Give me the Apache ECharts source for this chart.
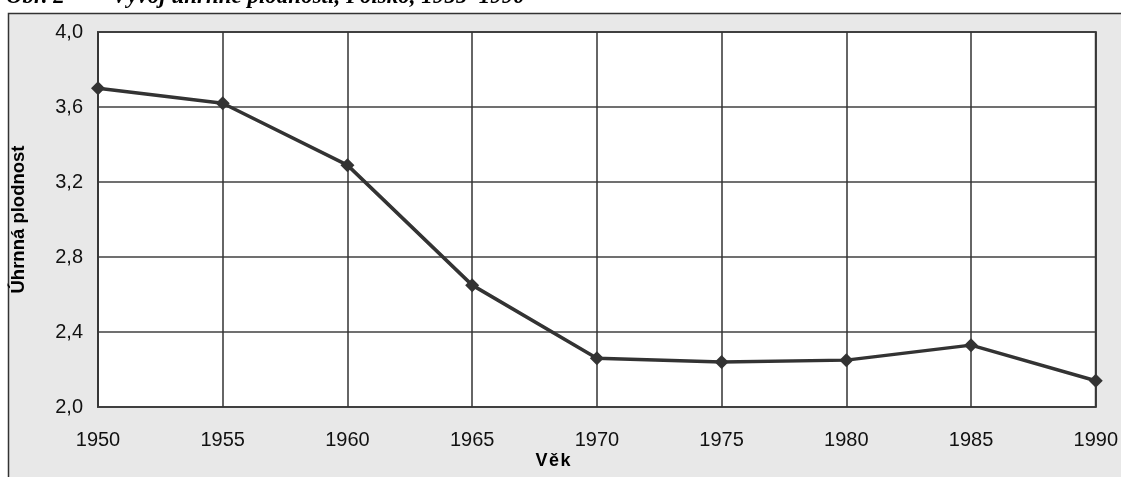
<!DOCTYPE html>
<html>
<head>
<meta charset="utf-8">
<script src="https://cdn.jsdelivr.net/npm/echarts@6/dist/echarts.min.js"></script>
<style>
html,body{margin:0;padding:0;background:#fff;}
#chart{width:1121px;height:477px;}
</style>
</head>
<body>
<div id="chart"></div>
<script>
var years = ['1950','1955','1960','1965','1970','1975','1980','1985','1990'];
var fertility = [3.70, 3.62, 3.29, 2.65, 2.26, 2.24, 2.25, 2.33, 2.14];
var yTicks = [2.0, 2.4, 2.8, 3.2, 3.6, 4.0];
var titleLabel = 'Obr. 2';
var titleText = 'Vývoj úhrnné plodnosti, Polsko, 1955–1990';
var xName = 'Věk';
var yName = 'Úhrnná plodnost';

var chart = echarts.init(document.getElementById('chart'), null, {renderer: 'canvas'});
var axisFont = '"Liberation Sans", Arial, sans-serif';
var titleFont = 'italic bold 23px "Liberation Serif", "Times New Roman", serif';
chart.setOption({
  animation: false,
  backgroundColor: '#ffffff',
  graphic: [
    {type: 'rect', z: -10, shape: {x: 8.5, y: 13.5, width: 1300, height: 600},
     style: {fill: '#e8e8e8', stroke: '#333333', lineWidth: 1.5}},
    {type: 'text', x: 6, y: 9, style: {text: titleLabel, font: titleFont, fill: '#000', verticalAlign: 'bottom'}},
    {type: 'text', x: 112, y: 9, style: {text: titleText, font: titleFont, fill: '#000', verticalAlign: 'bottom'}},
    {type: 'text', x: 553, y: 461, style: {text: xName.split('').join('\u200A'), font: 'bold 18px "Liberation Sans", Arial, sans-serif', fill: '#000', align: 'center', verticalAlign: 'middle'}}
  ],
  grid: {left: 98, right: 24, top: 32, bottom: 70, show: true, backgroundColor: '#ffffff', borderColor: '#404040', borderWidth: 2},
  xAxis: {
    type: 'category', data: years, boundaryGap: false,
    axisLine: {show: false}, axisTick: {show: false},
    axisLabel: {color: '#111', fontSize: 20, fontFamily: axisFont, margin: 23},
    splitLine: {show: true, lineStyle: {color: '#333', width: 1.5}}
  },
  yAxis: {
    type: 'value', min: yTicks[0], max: yTicks[yTicks.length - 1], interval: 0.4,
    name: yName, nameLocation: 'middle', nameGap: 70,
    nameTextStyle: {fontSize: 18.5, fontWeight: 'bold', color: '#000', fontFamily: axisFont},
    axisLine: {show: false}, axisTick: {show: false},
    axisLabel: {color: '#111', fontSize: 20, fontFamily: axisFont, margin: 15,
      formatter: function (v) { return v.toFixed(1).replace('.', ','); }},
    splitLine: {show: true, lineStyle: {color: '#404040', width: 1.5}}
  },
  series: [{
    type: 'line', data: fertility,
    symbol: 'diamond', symbolSize: 14,
    itemStyle: {color: '#333333'},
    lineStyle: {color: '#333333', width: 3.5}
  }]
});
</script>
</body>
</html>
